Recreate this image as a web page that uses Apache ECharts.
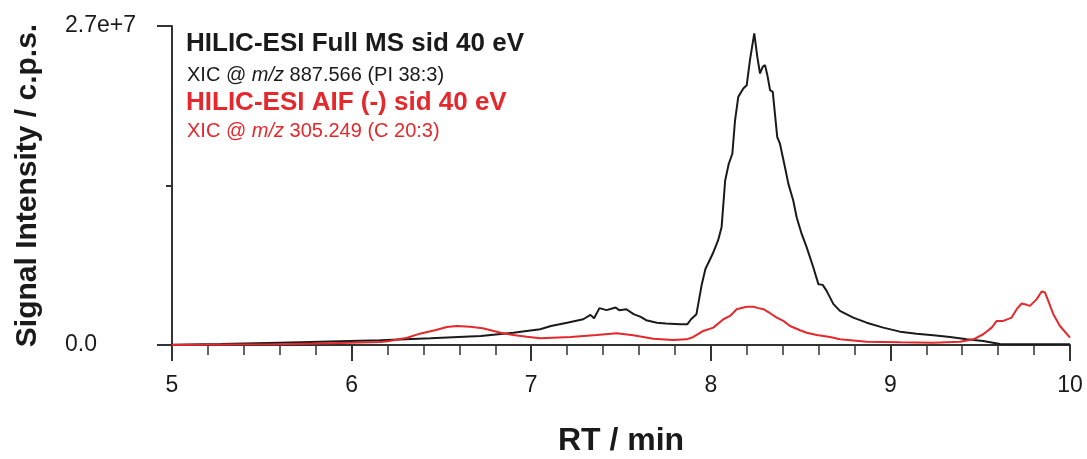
<!DOCTYPE html>
<html>
<head>
<meta charset="utf-8">
<script src="https://cdn.jsdelivr.net/npm/echarts@6/dist/echarts.min.js"></script>
<style>
html,body{margin:0;padding:0;background:#fff;}
#chart{width:1087px;height:459px;}
</style>
</head>
<body>
<div id="chart"></div>
<script>
// Retention time (min) and intensity (in units of 1e6 c.p.s.)
const fullMsTrace = [
  [5.00,0.02],[5.27,0.08],[5.60,0.20],[5.88,0.30],[6.16,0.40],[6.44,0.57],[6.72,0.76],
  [6.90,1.04],[7.05,1.33],[7.11,1.61],[7.20,1.89],[7.29,2.18],[7.33,2.55],[7.35,2.27],
  [7.38,3.12],[7.42,2.95],[7.47,3.17],[7.49,2.95],[7.53,3.03],[7.57,2.61],[7.61,2.38],
  [7.64,2.10],[7.70,1.89],[7.75,1.81],[7.83,1.76],[7.87,1.76],[7.89,2.18],[7.92,2.61],
  [7.95,5.15],[7.97,6.43],[8.01,7.70],[8.04,8.83],[8.06,9.96],[8.08,13.92],[8.10,15.34],
  [8.12,16.19],[8.135,19.02],[8.153,21.00],[8.181,21.71],[8.200,21.99],[8.218,24.11],
  [8.242,26.38],[8.259,24.39],[8.274,22.98],[8.289,23.54],[8.302,23.69],[8.315,22.84],
  [8.330,21.57],[8.345,21.42],[8.357,19.59],[8.370,17.60],[8.385,17.04],[8.413,15.05],
  [8.432,13.64],[8.459,12.23],[8.478,10.81],[8.506,9.40],[8.534,8.26],[8.571,6.56],
  [8.599,5.15],[8.623,5.09],[8.645,4.58],[8.682,3.48],[8.719,2.89],[8.793,2.32],
  [8.868,1.89],[8.960,1.47],[9.053,1.13],[9.146,0.96],[9.239,0.82],[9.332,0.68],
  [9.425,0.48],[9.517,0.34],[9.610,0.08],[9.703,0.06],[10.00,0.06]
];
const aifTrace = [
  [5.00,0.00],[5.32,0.04],[5.60,0.06],[5.88,0.15],[6.16,0.25],[6.21,0.34],[6.31,0.62],
  [6.38,0.96],[6.47,1.27],[6.53,1.53],[6.585,1.61],[6.66,1.55],[6.73,1.42],[6.83,1.04],
  [6.90,0.85],[6.975,0.70],[7.05,0.57],[7.22,0.68],[7.365,0.85],[7.476,0.99],[7.568,0.82],
  [7.68,0.53],[7.79,0.42],[7.866,0.48],[7.903,0.68],[7.958,1.19],[8.014,1.47],[8.07,2.18],
  [8.107,2.46],[8.144,3.03],[8.200,3.23],[8.237,3.23],[8.265,3.12],[8.293,3.03],[8.33,2.69],
  [8.367,2.32],[8.404,2.04],[8.441,1.61],[8.497,1.25],[8.534,1.04],[8.59,0.85],[8.664,0.68],
  [8.719,0.48],[8.868,0.28],[9.053,0.23],[9.239,0.20],[9.388,0.28],[9.462,0.48],[9.517,0.91],
  [9.564,1.47],[9.592,2.04],[9.629,2.04],[9.675,2.32],[9.703,3.03],[9.731,3.51],[9.759,3.40],
  [9.777,3.31],[9.815,3.88],[9.842,4.53],[9.861,4.44],[9.879,3.74],[9.907,2.61],[9.944,1.61],
  [10.00,0.62]
];
const xRange = [5, 10];
const yRange = [0, 27];
const yTickLabels = {0: '0.0', 27: '2.7e+7'};

const FONT = "'Liberation Sans', Arial, sans-serif";
const RED = '#e5282c';
const BLK = '#1a1a1a';
const AX = '#333333';

const chart = echarts.init(document.getElementById('chart'), null, {renderer: 'canvas'});
chart.setOption({
  animation: false,
  backgroundColor: '#ffffff',
  title: [
    {left: 186, top: 31, padding: 0,
     text: 'HILIC-ESI Full MS sid 40 eV',
     textStyle: {fontFamily: FONT, fontSize: 26, fontWeight: 'bold', color: BLK}},
    {left: 187, top: 65, padding: 0,
     text: '{n|XIC @ }{i|m/z}{n| 887.566 (PI 38:3)}',
     textStyle: {fontWeight: 'normal', fontSize: 20, rich: {
       n: {fontFamily: FONT, fontSize: 20, fontWeight: 'normal', color: BLK},
       i: {fontFamily: FONT, fontSize: 20, fontWeight: 'normal', color: BLK, fontStyle: 'italic'}}}},
    {left: 186, top: 90, padding: 0,
     text: 'HILIC-ESI AIF (-) sid 40 eV',
     textStyle: {fontFamily: FONT, fontSize: 26, fontWeight: 'bold', color: RED}},
    {left: 187, top: 121, padding: 0,
     text: '{n|XIC @ }{i|m/z}{n| 305.249 (C 20:3)}',
     textStyle: {fontWeight: 'normal', fontSize: 20, rich: {
       n: {fontFamily: FONT, fontSize: 20, fontWeight: 'normal', color: RED},
       i: {fontFamily: FONT, fontSize: 20, fontWeight: 'normal', color: RED, fontStyle: 'italic'}}}}
  ],
  grid: {left: 172, right: 17, top: 26, bottom: 114, containLabel: false, outerBoundsMode: 'none'},
  xAxis: {
    type: 'value', min: xRange[0], max: xRange[1], interval: 1,
    name: 'RT / min', nameLocation: 'middle', nameGap: 80,
    nameTextStyle: {fontFamily: FONT, fontSize: 32, fontWeight: 'bold', color: BLK},
    axisLine: {show: true, onZero: false, lineStyle: {color: AX, width: 2}},
    axisTick: {show: true, length: 16, lineStyle: {color: AX, width: 2}},
    minorTick: {show: true, splitNumber: 5, length: 10, lineStyle: {color: AX, width: 1.5}},
    splitLine: {show: false},
    axisLabel: {margin: 29, fontFamily: FONT, fontSize: 23, color: BLK},
  },
  yAxis: {
    type: 'value', min: yRange[0], max: yRange[1], interval: 27,
    name: 'Signal Intensity / c.p.s.', nameLocation: 'middle', nameGap: 129, nameRotate: 90,
    nameTextStyle: {fontFamily: FONT, fontSize: 30, fontWeight: 'bold', color: BLK},
    axisLine: {show: true, lineStyle: {color: AX, width: 2}},
    axisTick: {show: true, length: 15, lineStyle: {color: AX, width: 2}},
    minorTick: {show: true, splitNumber: 2, length: 6, lineStyle: {color: AX, width: 2}},
    splitLine: {show: false},
    axisLabel: {margin: 107, align: 'left', fontFamily: FONT, fontSize: 23, color: BLK,
      formatter: v => yTickLabels[v] !== undefined ? yTickLabels[v] : ''},
  },
  series: [
    {type: 'line', name: 'Full MS', data: fullMsTrace, showSymbol: false, smooth: false,
     lineStyle: {color: BLK, width: 2}, z: 2},
    {type: 'line', name: 'AIF', data: aifTrace, showSymbol: false, smooth: false,
     lineStyle: {color: RED, width: 2}, z: 3}
  ]
});
</script>
</body>
</html>
